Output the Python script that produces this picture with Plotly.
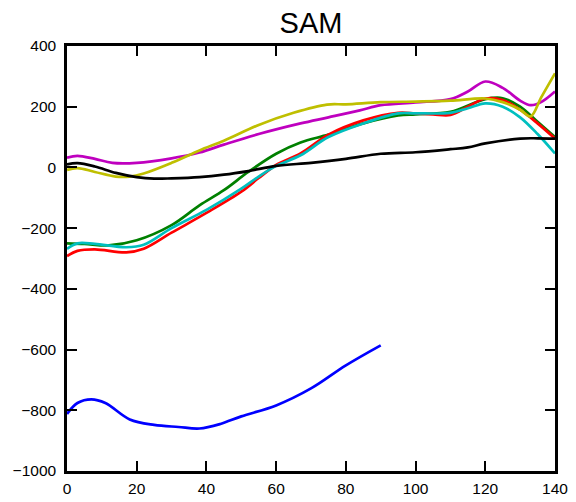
import plotly.graph_objects as go

# Data
blue_x = [0, 3, 7, 11, 18, 25, 32, 38, 44, 50, 60, 70, 80, 90]
blue_y = [-812, -776, -764, -776, -830, -848, -855, -860, -845, -820, -784, -728, -652, -586]

green_x = [0, 5, 12, 20, 30, 38, 45, 52, 60, 67, 75, 85, 95, 100, 110, 120, 125, 130, 135, 140]
green_y = [-250, -252, -257, -240, -190, -125, -75, -15, 45, 82, 108, 145, 171, 175, 183, 225, 228, 200, 150, 100]

red_x = [0, 3, 8, 17, 22, 30, 40, 50, 55, 60, 67, 75, 85, 95, 100, 105, 110, 115, 120, 125, 130, 135, 140]
red_y = [-292, -275, -270, -280, -268, -215, -150, -80, -35, 8, 46, 108, 155, 180, 178, 175, 173, 200, 227, 222, 190, 145, 95]

cyan_x = [0, 3, 8, 17, 22, 30, 40, 50, 55, 60, 67, 75, 85, 95, 100, 110, 115, 120, 125, 130, 135, 140]
cyan_y = [-268, -250, -252, -263, -255, -200, -140, -70, -30, 5, 40, 100, 145, 178, 178, 180, 195, 211, 200, 165, 110, 46]

magenta_x = [0, 3, 8, 13, 20, 30, 38, 45, 55, 67, 75, 84, 90, 100, 110, 115, 120, 125, 130, 133, 136, 140]
magenta_y = [32, 38, 28, 15, 15, 30, 49, 75, 110, 145, 165, 188, 205, 214, 225, 250, 283, 262, 220, 205, 215, 250]

yellow_x = [0, 3, 8, 14, 18, 22, 30, 38, 45, 55, 65, 74.6, 80, 90, 100, 110, 120, 125, 130, 133, 136, 140]
yellow_y = [-8, -2, -15, -30, -30, -20, 15, 56, 88, 140, 180, 207, 208, 215, 217, 220, 227, 215, 190, 168, 230, 310]

black_x = [0, 3, 8, 14, 20, 25, 30, 38, 45, 52, 60, 70, 80, 90, 100, 110, 115, 120, 130, 135, 140]
black_y = [10, 14, 3, -18, -32, -37, -36, -32, -24, -12, 5, 15, 28, 45, 50, 60, 66, 79, 95, 96, 95]

series = [
    (blue_x, blue_y, "#0000ff"),
    (green_x, green_y, "#008000"),
    (red_x, red_y, "#ff0000"),
    (cyan_x, cyan_y, "#00bfbf"),
    (magenta_x, magenta_y, "#bf00bf"),
    (yellow_x, yellow_y, "#bfbf00"),
    (black_x, black_y, "#000000"),
]

x_ticks = [0, 20, 40, 60, 80, 100, 120, 140]
y_ticks = [-1000, -800, -600, -400, -200, 0, 200, 400]
y_tick_labels = ["\u22121000", "\u2212800", "\u2212600", "\u2212400", "\u2212200", "0", "200", "400"]

fig = go.Figure()
for xs, ys, c in series:
    fig.add_trace(go.Scatter(x=xs, y=ys, mode="lines",
                             line=dict(color=c, width=2.7, shape="spline", smoothing=1.0),
                             showlegend=False, hoverinfo="skip"))

axis_common = dict(
    showgrid=False, zeroline=False, showline=True, linecolor="black", linewidth=2.5,
    mirror="ticks", ticks="inside", ticklen=10, tickwidth=1.5, tickcolor="black",
    automargin=False,
    tickfont=dict(family="Liberation Sans, Arial, sans-serif", size=15.5, color="black"),
)

fig.update_xaxes(range=[0, 140], tickvals=x_ticks, ticklabelstandoff=2, **axis_common)
fig.update_yaxes(range=[-1000, 400], tickvals=y_ticks, ticktext=y_tick_labels,
                 ticklabelstandoff=5, **axis_common)

fig.update_layout(
    width=576, height=502,
    margin=dict(l=67, r=21, t=46, b=31, pad=0),
    paper_bgcolor="white", plot_bgcolor="white",
    title=dict(text="SAM", x=0.54, xanchor="center", y=0.955, yanchor="middle",
               font=dict(family="Liberation Sans, Arial, sans-serif", size=29, color="black")),
)

fig.write_html("out.html")
